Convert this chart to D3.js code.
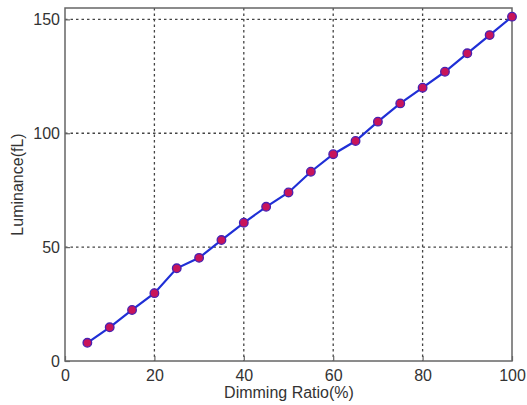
<!DOCTYPE html>
<html>
<head>
<meta charset="utf-8">
<script src="https://cdn.jsdelivr.net/npm/d3@7"></script>
<style>
  body { margin: 0; background: #fff; }
  text { font-family: "Liberation Sans", Arial, sans-serif; fill: #333; }
</style>
</head>
<body>
<svg id="chart" width="527" height="405"></svg>
<script>
// dimming ratio (%) vs measured luminance (fL)
var ratio = [5, 10, 15, 20, 25, 30, 35, 40, 45, 50, 55, 60, 65, 70, 75, 80, 85, 90, 95, 100];
var luminance = [8, 14.8, 22.4, 29.8, 40.7, 45.3, 53.1, 60.7, 67.7, 74, 83.1, 90.8, 96.6, 105.1, 113.1, 120, 127, 135.1, 143.1, 151.2];
var xTicks = [0, 20, 40, 60, 80, 100];
var yTicks = [0, 50, 100, 150];

var svg = d3.select("#chart"),
    plotL = 65, plotR = 512, plotT = 8, plotB = 361;

var x = d3.scaleLinear().domain([0, 100]).range([plotL, plotR]);
var y = d3.scaleLinear().domain([0, 155]).range([plotB, plotT]);

// grid
var grid = svg.append("g").attr("stroke", "#444").attr("stroke-width", 1.3)
    .attr("stroke-dasharray", "2.5,3");
grid.selectAll(".gx").data(xTicks.slice(1, -1)).enter().append("line")
    .attr("x1", d => x(d)).attr("x2", d => x(d))
    .attr("y1", plotT).attr("y2", plotB);
grid.selectAll(".gy").data(yTicks.slice(1)).enter().append("line")
    .attr("x1", plotL).attr("x2", plotR)
    .attr("y1", d => y(d)).attr("y2", d => y(d));

// axes box
svg.append("rect").attr("x", plotL).attr("y", plotT)
    .attr("width", plotR - plotL).attr("height", plotB - plotT)
    .attr("fill", "none").attr("stroke", "#666").attr("stroke-width", 1.5);

var xAxis = svg.append("g").attr("transform", "translate(0," + plotB + ")")
    .call(d3.axisBottom(x).tickValues(xTicks).tickSizeInner(-5).tickSizeOuter(0).tickPadding(9));
var yAxis = svg.append("g").attr("transform", "translate(" + plotL + ",0)")
    .call(d3.axisLeft(y).tickValues(yTicks).tickSizeInner(-5).tickSizeOuter(0).tickPadding(5));
[xAxis, yAxis].forEach(function(a) {
  a.select(".domain").remove();
  a.selectAll(".tick line").attr("stroke", "#666").attr("stroke-width", 1.2);
  a.selectAll(".tick text").attr("font-size", 16).attr("fill", "#333")
    .style("font-family", "'Liberation Sans', Arial, sans-serif");
});

// line + markers
var line = d3.line().x((d, i) => x(ratio[i])).y(d => y(d));
svg.append("path").datum(luminance).attr("d", line)
    .attr("fill", "none").attr("stroke", "#1f2fd6").attr("stroke-width", 2.2);
svg.selectAll(".pt").data(luminance).enter().append("circle")
    .attr("cx", (d, i) => x(ratio[i])).attr("cy", d => y(d)).attr("r", 4.3)
    .attr("fill", "#c8145a").attr("stroke", "#4a20b0").attr("stroke-width", 1.3);

// labels
svg.append("text").attr("x", 289).attr("y", 398).attr("text-anchor", "middle")
    .attr("font-size", 16).text("Dimming Ratio(%)");
svg.append("text").attr("transform", "translate(23," + (plotB + plotT) / 2 + ") rotate(-90)")
    .attr("text-anchor", "middle").attr("font-size", 16).text("Luminance(fL)");
</script>
</body>
</html>
